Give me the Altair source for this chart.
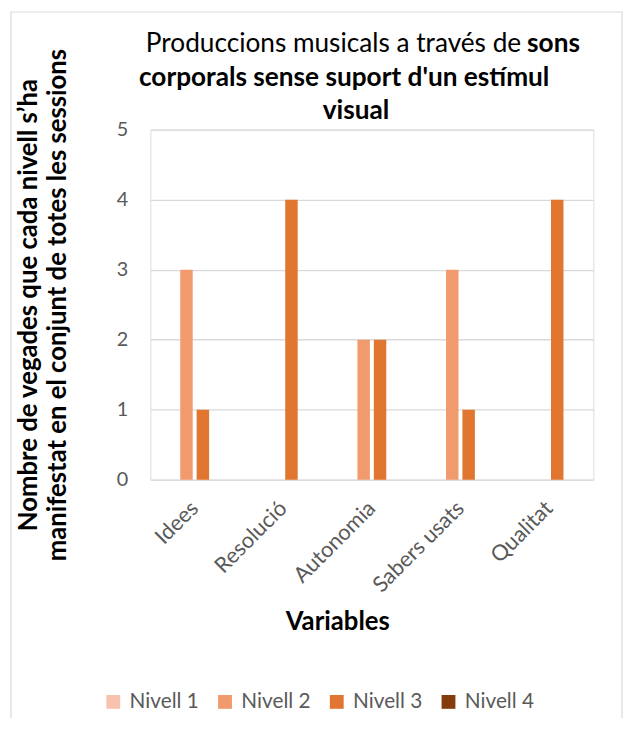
import altair as alt
import pandas as pd

categories = ["Idees", "Resolució", "Autonomia", "Sabers usats", "Qualitat"]
levels = ["Nivell 1", "Nivell 2", "Nivell 3", "Nivell 4"]
nivell1 = [0, 0, 0, 0, 0]
nivell2 = [3, 0, 2, 3, 0]
nivell3 = [1, 4, 2, 1, 4]
nivell4 = [0, 0, 0, 0, 0]
colors = ["#F7C2AE", "#F19A6E", "#E0762F", "#843C0C"]

title_line1_normal = "Produccions musicals  a través de"
title_line1_bold = "sons"
title_line2 = "corporals sense suport d'un estímul"
title_line3 = "visual"
y_title = ["Nombre de vegades que cada nivell s’ha", "manifestat en el conjunt de totes les sessions"]
x_title = "Variables"

rows = []
for series, name in zip([nivell1, nivell2, nivell3, nivell4], levels):
    for c, v in zip(categories, series):
        rows.append({"Variable": c, "Nivell": name, "Valor": v})
df = pd.DataFrame(rows)

FONT = "Lato"

bars = alt.Chart(df).mark_bar().encode(
    x=alt.X("Variable:N", sort=categories,
            scale=alt.Scale(paddingInner=0.26, paddingOuter=0.13),
            axis=alt.Axis(title=x_title, labelAngle=-45, labelFontSize=22,
                          labelColor="#595959", ticks=False, domain=False,
                          labelAlign="right", labelBaseline="middle",
                          labelPadding=25, titleFontSize=26, titleFontWeight="bold",
                          titleColor="#000000", titleX=189, titleY=152,
                          titleBaseline="alphabetic", titleAnchor="middle")),
    xOffset=alt.XOffset("Nivell:N", sort=levels,
                        scale=alt.Scale(paddingInner=0.24, paddingOuter=0.12)),
    y=alt.Y("Valor:Q", scale=alt.Scale(domain=[0, 5], nice=False),
            axis=alt.Axis(title=y_title, values=[0, 1, 2, 3, 4, 5], labelFontSize=20,
                          labelColor="#595959", ticks=False, domain=False,
                          labelPadding=23, grid=True, gridColor="#D9D9D9",
                          gridWidth=1.3, titleFontSize=26, titleFontWeight="bold",
                          titleColor="#000000", titlePadding=46, titleLineHeight=30)),
    color=alt.Color("Nivell:N", sort=levels,
                    scale=alt.Scale(domain=levels, range=colors),
                    legend=alt.Legend(title=None, orient="none", direction="horizontal",
                                      legendX=-48, legendY=568, symbolType="square",
                                      symbolSize=196, symbolStrokeWidth=0,
                                      labelFontSize=21, labelColor="#595959",
                                      labelOffset=6, columnPadding=15, padding=0,
                                      labelFont=FONT)),
)

one = alt.Data(values=[{"k": 1}])

t1a = alt.Chart(one).mark_text(text=title_line1_normal, align="right", baseline="alphabetic",
                               font=FONT, fontSize=26.5, color="#000000").encode(
    x=alt.value(375), y=alt.value(-79))
t1b = alt.Chart(one).mark_text(text=title_line1_bold, align="left", baseline="alphabetic",
                               font=FONT, fontSize=26.5, fontWeight="bold", color="#000000").encode(
    x=alt.value(381), y=alt.value(-79))
t2 = alt.Chart(one).mark_text(text=title_line2, align="center", baseline="alphabetic",
                              font=FONT, fontSize=26.5, fontWeight="bold", color="#000000").encode(
    x=alt.value(196), y=alt.value(-44))
t3 = alt.Chart(one).mark_text(text=title_line3, align="center", baseline="alphabetic",
                              font=FONT, fontSize=26.5, fontWeight="bold", color="#000000").encode(
    x=alt.value(208), y=alt.value(-11))

frame = alt.Chart(one).mark_rect(fillOpacity=0, stroke="#D9D9D9", strokeWidth=1.2).encode(
    x=alt.value(-141), x2=alt.value(477), y=alt.value(-119), y2=alt.value(700))

chart = alt.layer(frame, bars, t1a, t1b, t2, t3).properties(
    width=448, height=354,
    autosize=alt.AutoSizeParams(type="none"),
    padding={"left": 144, "top": 119, "right": 30, "bottom": 237},
).configure_view(stroke=None).configure(font=FONT)

chart.save("out.html", embed_options={"renderer": "svg", "actions": False})
